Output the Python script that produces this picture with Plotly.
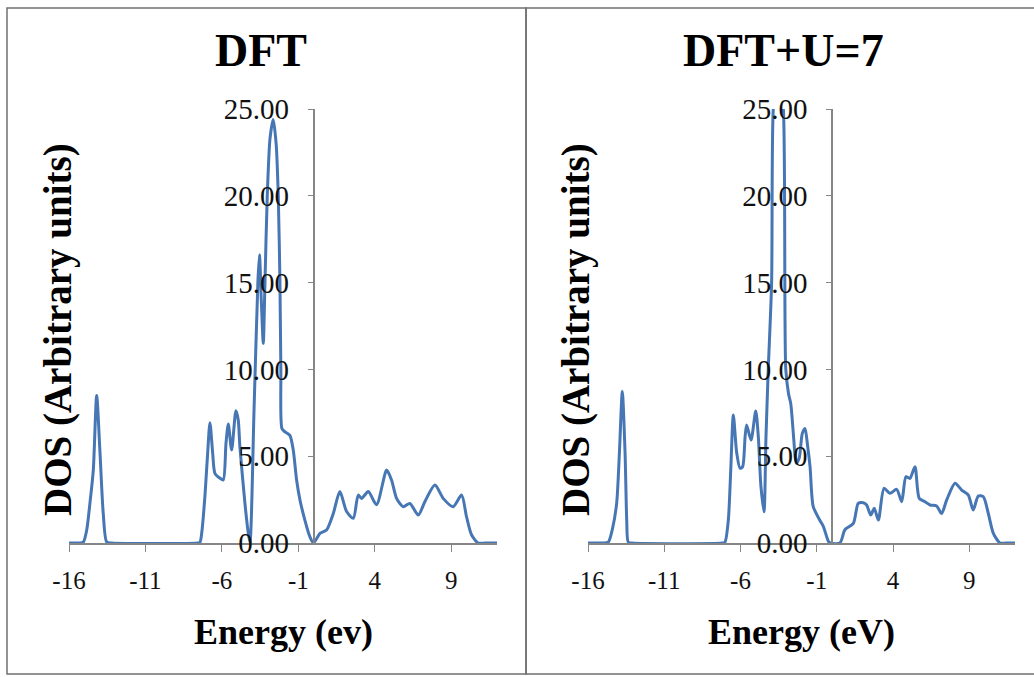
import plotly.graph_objects as go

# Density of states, plain DFT (energy in eV, DOS in arbitrary units)
energy_dft = [-16.0, -15.3, -15.06, -14.84, -14.63, -14.41, -14.19, -13.97, -13.76, -13.53, -13.2,
              -7.6, -7.43, -7.32, -7.11, -6.93, -6.78, -6.6, -6.45, -6.12, -5.91, -5.73, -5.58,
              -5.36, -5.08, -4.93, -4.82, -4.49, -4.27, -4.16, -3.9, -3.64, -3.54, -3.42, -3.29,
              -3.18, -3.03, -2.85, -2.64, -2.45, -2.31, -2.2, -2.14, -2.07, -1.87, -1.55, -1.33,
              -1.11, -0.89, -0.57, -0.24, 0.0, 0.42, 0.85, 1.29, 1.72, 2.16, 2.6, 2.92, 3.14,
              3.58, 4.12, 4.78, 5.1, 5.43, 5.87, 6.3, 6.85, 7.28, 7.94, 8.48, 9.13, 9.68,
              10.01, 10.34, 10.77, 11.2, 12.0]
dos_dft = [0.0, 0.0, 0.05, 0.75, 2.3, 4.2, 8.5, 5.17, 1.7, 0.05, 0.0,
           0.0, 0.05, 0.56, 2.67, 5.17, 6.93, 5.17, 4.0, 3.73, 3.63, 5.74, 6.86,
           5.36, 7.62, 7.1, 5.55, 2.28, 0.56, 0.05, 7.5, 15.1, 16.6, 14.0, 11.5,
           15.0, 20.0, 23.3, 24.4, 23.0, 20.0, 15.0, 10.0, 6.6, 6.4, 6.2, 5.36,
           3.63, 2.48, 1.32, 0.36, 0.0, 0.56, 0.75, 1.7, 2.96, 1.81, 1.42, 2.76, 2.57,
           2.96, 2.2, 4.2, 3.63, 2.57, 2.09, 2.28, 1.61, 2.38, 3.34, 2.57, 2.09, 2.76,
           1.5, 0.46, 0.0, 0.0, 0.0]

# Density of states, DFT+U (U = 7)
energy_dftu = [-16.0, -15.0, -14.67, -14.4, -14.12, -13.94, -13.75, -13.57, -13.46, -13.36, -13.1,
               -7.2, -7.02, -6.8, -6.64, -6.47, -6.25, -6.03, -5.86, -5.7, -5.6, -5.31, -5.0,
               -4.83, -4.66, -4.46, -4.33, -4.18, -3.96, -3.85, -3.52, -3.19, -3.03, -2.85,
               -2.7, -2.5, -2.35, -2.15, -1.95, -1.77, -1.6, -1.44, -1.23, -0.79, -0.57, -0.24,
               -0.13, 0.52, 0.85, 1.4, 1.72, 2.05, 2.27, 2.54, 2.77, 3.04, 3.41, 3.8, 4.24,
               4.57, 4.85, 5.11, 5.44, 5.72, 6.1, 6.43, 6.86, 7.19, 7.52, 8.07, 8.5, 8.94,
               9.26, 9.59, 9.92, 10.25, 10.58, 11.02, 11.4, 12.0]
dos_dftu = [0.0, 0.0, 0.05, 0.8, 2.3, 5.2, 8.72, 5.2, 1.3, 0.05, 0.0,
            0.0, 0.05, 1.3, 4.2, 7.37, 5.2, 4.3, 4.4, 6.1, 6.8, 5.93, 7.6,
            6.1, 3.26, 1.8, 6.1, 10.0, 15.0, 25.0, 27.5, 25.0, 10.0, 8.6,
            8.0, 5.9, 4.6, 4.9, 6.3, 6.6, 5.6, 4.4, 2.1, 1.3, 0.96, 0.1,
            0.0, 0.0, 0.77, 1.13, 2.28, 2.32, 2.19, 1.61, 2.0, 1.32, 3.15, 2.86, 3.09,
            2.38, 3.82, 3.72, 4.4, 2.57, 2.38, 2.19, 2.13, 1.7, 2.48, 3.44, 3.05, 2.76,
            1.9, 2.7, 2.67, 1.7, 0.56, 0.0, 0.0, 0.0]

# Energy tick positions and their labels (plain hyphen-minus)
energy_ticks = [-16, -11, -6, -1, 4, 9]
energy_tick_labels = ["-16", "-11", "-6", "-1", "4", "9"]

panel_titles = ["DFT", "DFT+U=7"]
x_titles = ["Energy (ev)", "Energy (eV)"]
y_title = "DOS (Arbitrary units)"

E_MIN, E_MAX = -16, 12
LINE_BLUE = "#4676b4"
AXIS_GREY = "#868686"
FRAME_GREY = "#707070"
SERIF = "Liberation Serif"
W, H = 1034, 677

x_domains = [(69 / W, 497 / W), (588 / W, 1015 / W)]
y_domain = (1 - 543 / H, 1 - 109 / H)


def zero_position(dom):
    # paper x of E = 0, where the DOS axis crosses the energy axis
    return dom[0] + (0 - E_MIN) / (E_MAX - E_MIN) * (dom[1] - dom[0])


fig = go.Figure()
fig.add_trace(go.Scatter(x=energy_dft, y=dos_dft, mode="lines", xaxis="x", yaxis="y",
                         line=dict(color=LINE_BLUE, width=3, shape="spline", smoothing=0.7),
                         showlegend=False))
fig.add_trace(go.Scatter(x=energy_dftu, y=dos_dftu, mode="lines", xaxis="x2", yaxis="y2",
                         line=dict(color=LINE_BLUE, width=3, shape="spline", smoothing=0.7),
                         showlegend=False))

x_common = dict(range=[E_MIN, E_MAX], tickmode="array", tickvals=energy_ticks,
                ticktext=energy_tick_labels, ticks="outside", ticklen=7,
                tickcolor=AXIS_GREY, showline=True, linecolor=AXIS_GREY, linewidth=1.5,
                showgrid=False, zeroline=False, ticklabelstandoff=7, automargin=False,
                tickfont=dict(family=SERIF, size=25, color="#111111"))
y_common = dict(range=[0, 25], dtick=5, tickformat=".2f", ticks="outside", ticklen=5,
                tickcolor=AXIS_GREY, showline=True, linecolor=AXIS_GREY, linewidth=1.5,
                showgrid=False, zeroline=False, domain=list(y_domain), anchor="free",
                ticklabelstandoff=13, automargin=False,
                tickfont=dict(family=SERIF, size=29, color="#111111"))

fig.update_layout(
    width=W, height=H, autosize=False,
    margin=dict(l=0, r=0, t=0, b=0, pad=0, autoexpand=False),
    paper_bgcolor="white", plot_bgcolor="white",
    showlegend=False,
    xaxis=dict(domain=list(x_domains[0]), anchor="y", **x_common),
    xaxis2=dict(domain=list(x_domains[1]), anchor="y2", **x_common),
    yaxis=dict(position=zero_position(x_domains[0]), **y_common),
    yaxis2=dict(position=zero_position(x_domains[1]), **y_common),
)

# Panel frames (the two panels share the divider line)
frames = [(7, 8, 526, 674), (526, 8, 1040, 674)]
for x0, y0, x1, y1 in frames:
    fig.add_shape(type="rect", xref="paper", yref="paper",
                  x0=x0 / W, x1=x1 / W, y0=1 - y1 / H, y1=1 - y0 / H,
                  line=dict(color=FRAME_GREY, width=1.5), layer="below")

# Titles
title_x = [261 / W, 783 / W]
xtitle_x = [283 / W, 801 / W]
ytitle_x = [58 / W, 576 / W]
for i in range(2):
    fig.add_annotation(text="<b>%s</b>" % panel_titles[i], xref="paper", yref="paper",
                       x=title_x[i], y=1 - 50 / H, xanchor="center", yanchor="middle",
                       showarrow=False, font=dict(family=SERIF, size=46, color="black"))
    fig.add_annotation(text="<b>%s</b>" % x_titles[i], xref="paper", yref="paper",
                       x=xtitle_x[i], y=1 - 632 / H, xanchor="center", yanchor="middle",
                       showarrow=False, font=dict(family=SERIF, size=36, color="black"))
    fig.add_annotation(text="<b>%s</b>" % y_title, xref="paper", yref="paper",
                       x=ytitle_x[i], y=1 - 330 / H, xanchor="center", yanchor="middle",
                       textangle=-90, showarrow=False,
                       font=dict(family=SERIF, size=39, color="black"))

fig.write_html("out.html")
